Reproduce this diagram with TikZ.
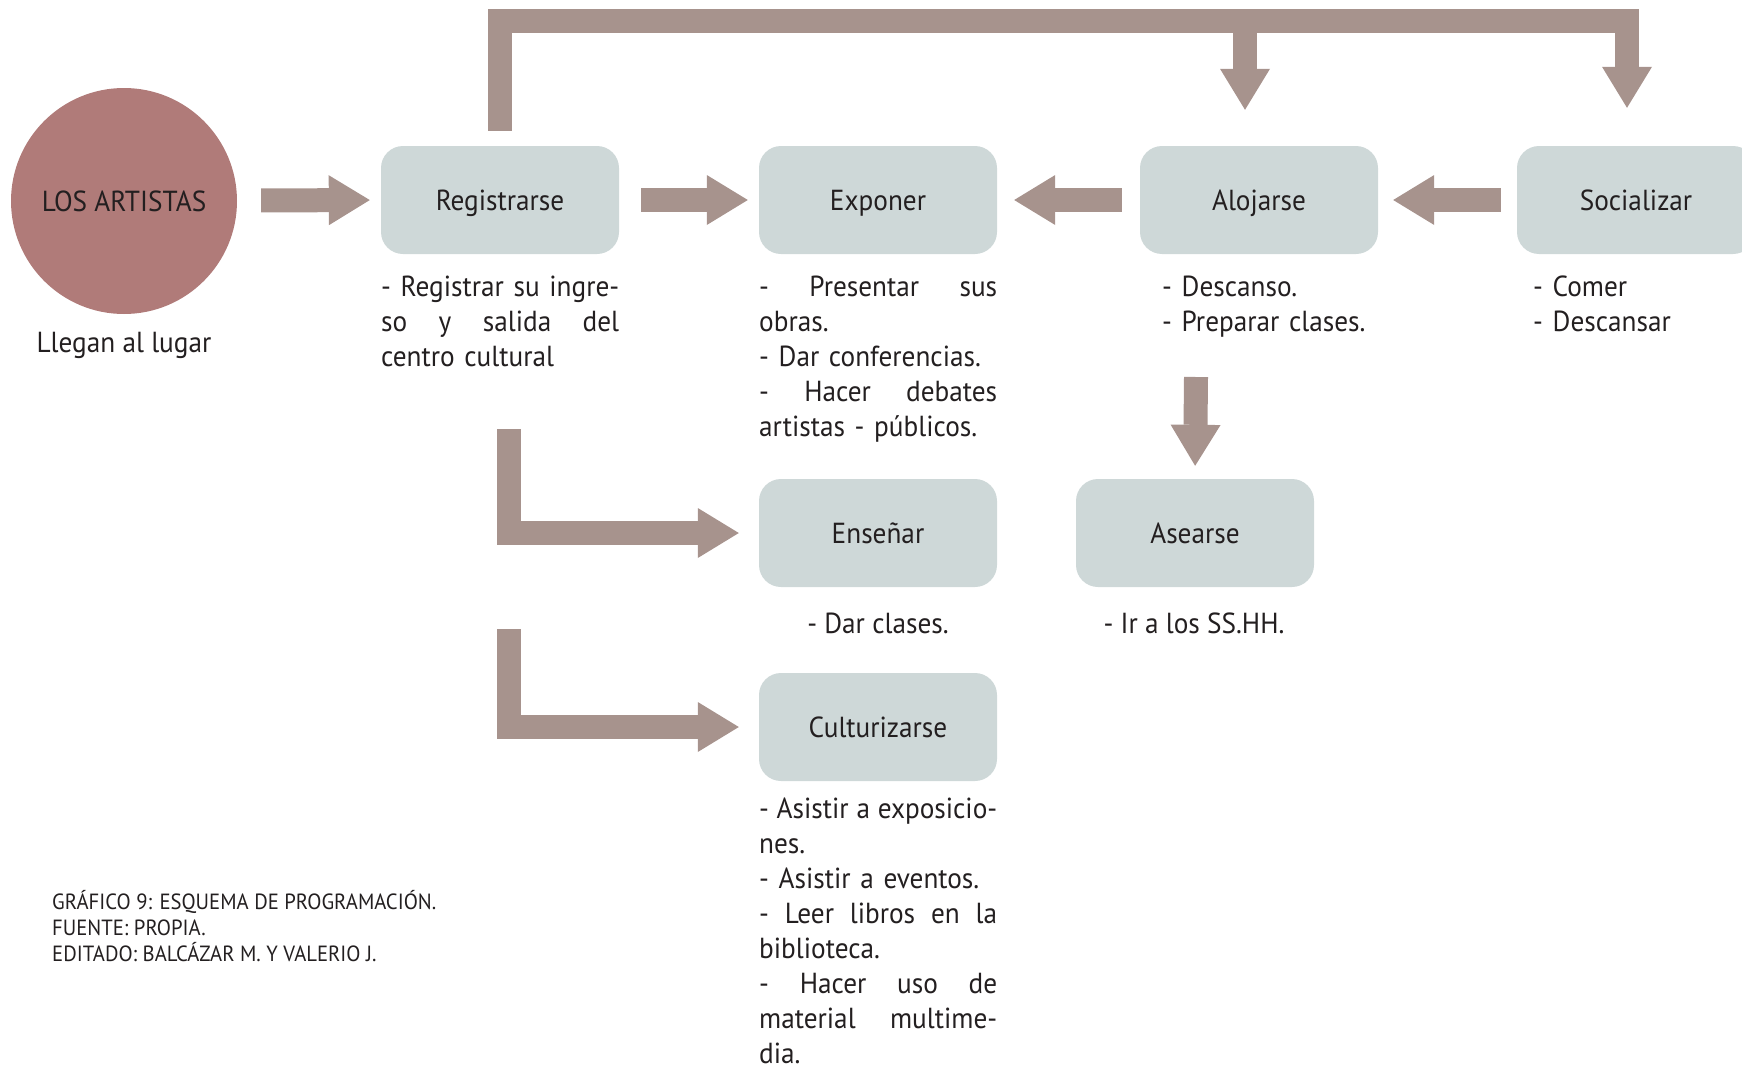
\documentclass[tikz,border=0pt]{standalone}
\usepackage{fontspec}
\setmainfont{PT Sans}[FakeStretch=0.94]
\usetikzlibrary{arrows.meta}
\definecolor{boxgray}{RGB}{206,216,216}
\definecolor{rose}{RGB}{176,123,121}
\definecolor{taupe}{RGB}{167,147,141}
\definecolor{ink}{RGB}{35,31,32}

\begin{document}
\begin{tikzpicture}[x=1pt, y=-1pt,
                    >={Triangle[length=41pt, width=50pt, line width=0pt]},
                    every node/.style={text=ink},
                    stage/.style={rectangle, rounded corners=22pt, fill=boxgray,
                                  minimum width=238pt, minimum height=108pt,
                                  text height=21pt, text depth=0pt,
                                  font=\fontsize{29}{35}\selectfont},
                    notes/.style={anchor=north west, inner sep=0pt, text width=238pt,
                                  align=left, font=\fontsize{29}{35}\selectfont,
                                  execute at begin node=\strut},
                    fat/.style={draw=taupe, line width=24pt, ->, line join=miter}]
  \useasboundingbox (0,0) rectangle (1742,1068);
  % actors and stages
  \node[circle, fill=rose, minimum size=226pt, font=\fontsize{29}{35}\selectfont]
    (artistas) at (124,201) {LOS ARTISTAS};
  \node[font=\fontsize{29}{35}\selectfont] (llegan) at (124,345) {Llegan al lugar};
  \node[stage] (registrarse) at (500,200) {Registrarse};
  \node[stage] (exponer) at (878,200) {Exponer};
  \node[stage] (alojarse) at (1259,200) {Alojarse};
  \node[stage] (socializar) at (1636,200) {Socializar};
  \node[stage] (ensenar) at (878,533) {Enseñar};
  \node[stage] (asearse) at (1195,533) {Asearse};
  \node[stage] (culturizarse) at (878,727) {Culturizarse};
  % activities
  \node[notes] (n-reg) at (381,272)
    {\hbox to 238pt{\spaceskip=0.2em plus 1em - Registrar su ingre-}\\
    so \hfill y \hfill salida \hfill del\\ centro cultural};
  \node[notes] (n-exp) at (759,272) {- \hfill Presentar \hfill sus\\ obras.\\
    - Dar conferencias.\\ - \hfill Hacer \hfill debates\\ artistas - públicos.};
  \node[notes] (n-alo) at (1162,272) {- Descanso.\\ - Preparar clases.};
  \node[notes] (n-soc) at (1533,272) {- Comer\\ - Descansar};
  \node[font=\fontsize{29}{35}\selectfont] (n-ens) at (878,623) {- Dar clases.};
  \node[font=\fontsize{29}{35}\selectfont] (n-ase) at (1194,623) {- Ir a los SS.HH.};
  \node[notes] (n-cul) at (759,794)
    {\hbox to 238pt{\spaceskip=0.18em plus 1em - Asistir a exposicio-}\\ nes.\\
    - Asistir a eventos.\\ - \hfill Leer \hfill libros \hfill en \hfill la\\
    biblioteca.\\ - \hfill Hacer \hfill uso \hfill de\\
    material \hfill multime-\\ dia.};
  \node[anchor=north west, inner sep=0pt, align=left,
        font=\fontsize{22}{26}\selectfont, execute at begin node=\strut]
    (grafico) at (52,890)
    {GRÁFICO 9: ESQUEMA DE PROGRAMACIÓN.\\ FUENTE: PROPIA.\\
     EDITADO: BALCÁZAR M. Y VALERIO J.};
  % flow
  \coordinate (top-l) at (500,21);
  \coordinate (top-r) at (1627,21);
  \coordinate (top-m) at (1245,21);
  \coordinate (ens-in) at (509,429);
  \coordinate (cul-in) at (509,629);
  \coordinate (ase-in) at (1196,377);
  \draw[fat, shorten <=24pt, shorten >=11pt] (artistas) -- (registrarse.west);
  \draw[fat, shorten <=22pt, shorten >=11pt] (registrarse.east) -- (exponer.west);
  \draw[fat, shorten <=18pt, shorten >=17pt] (alojarse.west) -- (exponer.east);
  \draw[fat, shorten <=16pt, shorten >=15pt] (socializar.west) -- (alojarse.east);
  \draw[fat] ([yshift=15pt]registrarse.north) -- (top-l) -- (top-r)
    -- ([yshift=38pt]socializar.north -| top-r);
  \draw[fat] (top-m) -- ([yshift=36pt]alojarse.north -| top-m);
  \draw[fat, shorten >=20pt] (ens-in) |- (ensenar.west);
  \draw[fat, shorten >=20pt] (cul-in) |- (culturizarse.west);
  \draw[fat, shorten >=13pt] (ase-in) -- (asearse.north);
\end{tikzpicture}
\end{document}
